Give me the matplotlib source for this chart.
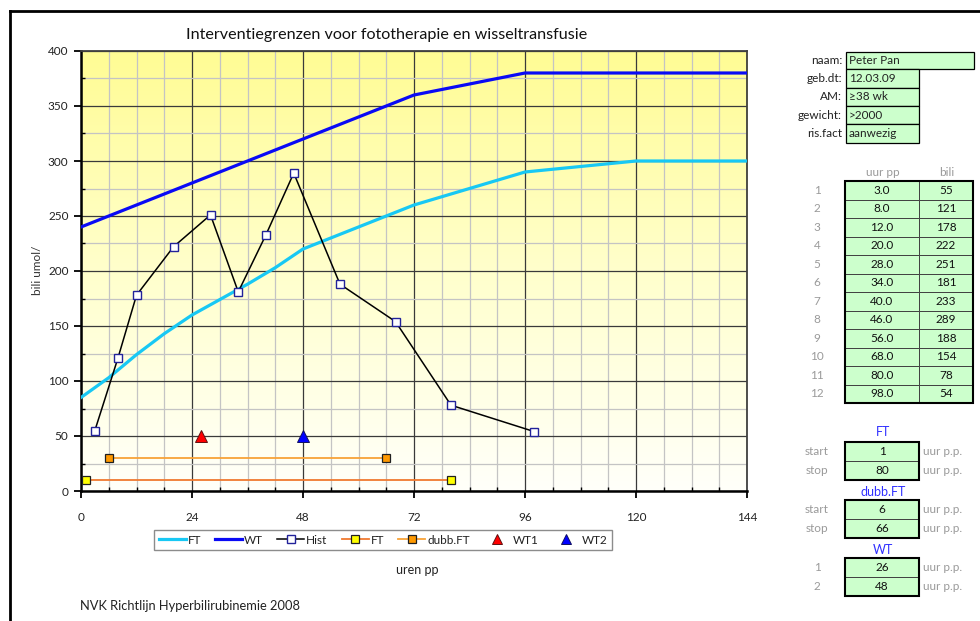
import numpy as np
import matplotlib
matplotlib.use("Agg")
import matplotlib.pyplot as plt
from matplotlib.patches import Rectangle
from matplotlib.colors import LinearSegmentedColormap

plt.rcParams['font.family'] = ['Lato', 'DejaVu Sans']

# grenslijnen (uur pp -> bili umol/l)
ft_hours = [0, 6, 12, 18, 24, 30, 36, 42, 48, 72, 96, 120, 144]
ft_limit = [85, 103, 124, 143, 160, 174, 188, 203, 220, 260, 290, 300, 300]
wt_hours = [0, 24, 48, 72, 96, 144]
wt_limit = [240, 280, 320, 360, 380, 380]

# gemeten waarden
hist_hours = [3, 8, 12, 20, 28, 34, 40, 46, 56, 68, 80, 98]
hist_bili = [55, 121, 178, 222, 251, 181, 233, 289, 188, 154, 78, 54]

# behandelingen
ft_period = [1, 80]
ft_level = 10
dubb_period = [6, 66]
dubb_level = 30
wt_moments = [26, 48]
wt_level = 50

patient_labels = ['naam:', 'geb.dt:', 'AM:', 'gewicht:', 'ris.fact']
patient_values = ['Peter Pan', '12.03.09', '\u226538 wk', '>2000', 'aanwezig']

W, H = 980, 621
fig = plt.figure(figsize=(W / 100, H / 100), dpi=100)
fig.patch.set_facecolor('white')

ax = fig.add_axes([81 / W, 1 - 491 / H, 666 / W, 440 / H])

# achtergrond verloop
bg = LinearSegmentedColormap.from_list('bg', ['#fffffa', '#ffffcc', '#fffc94'])
ax.imshow(np.linspace(0, 1, 256).reshape(-1, 1), extent=[0, 144, 0, 400],
          origin='lower', aspect='auto', cmap=bg, zorder=0)

ax.set_xlim(0, 144)
ax.set_ylim(0, 400)
ax.set_xticks(np.arange(0, 145, 24))
ax.set_xticks(np.arange(0, 145, 6), minor=True)
ax.set_yticks(np.arange(0, 401, 50))
ax.set_yticks(np.arange(0, 401, 25), minor=True)
ax.grid(which='minor', color='#c4c4c4', lw=0.9, zorder=0.5)
ax.grid(which='major', color='#3a3a3a', lw=0.9, zorder=0.6)
ax.set_axisbelow(True)

for s in ['left', 'bottom']:
    ax.spines[s].set_color('black')
    ax.spines[s].set_linewidth(1.8)
for s in ['top', 'right']:
    ax.spines[s].set_color('#404040')
    ax.spines[s].set_linewidth(1.3)

ax.tick_params(which='major', direction='out', length=5, width=1.3,
               labelsize=8.5, labelcolor='#222222')
ax.tick_params(axis='x', which='major', pad=10)
ax.tick_params(axis='y', which='major', pad=4)
ax.tick_params(which='minor', direction='in', length=3, width=1.0)

ax.plot(ft_hours, ft_limit, color='#18c8f4', lw=2.3, label='FT', zorder=3)
ax.plot(wt_hours, wt_limit, color='#0a0af5', lw=2.3, label='WT', zorder=3)
ax.plot(hist_hours, hist_bili, color='black', lw=1.1, marker='s', ms=5.6,
        mfc='white', mec='#22229a', mew=1.0, label='Hist', zorder=4)
ax.plot(ft_period, [ft_level] * 2, color='#f07a30', lw=1.3, marker='s', ms=6.3,
        mfc='#ffff00', mec='#202020', mew=0.9, label='FT', zorder=4)
ax.plot(dubb_period, [dubb_level] * 2, color='#f8a238', lw=1.3, marker='s', ms=6.3,
        mfc='#ff9900', mec='#202020', mew=0.9, label='dubb.FT', zorder=4)
ax.plot([wt_moments[0]], [wt_level], ls='none', marker='^', ms=8,
        mfc='#ff0000', mec='#601010', mew=0.7, label='WT1', zorder=5, clip_on=False)
ax.plot([wt_moments[1]], [wt_level], ls='none', marker='^', ms=8,
        mfc='#0000ff', mec='#101060', mew=0.7, label='WT2', zorder=5, clip_on=False)

leg = fig.legend(loc='center', bbox_to_anchor=(383 / W, 1 - 540 / H), ncol=7,
                 fontsize=8.5, frameon=True, fancybox=False, handlelength=2.3,
                 handletextpad=0.15, columnspacing=1.2, borderpad=0.4,
                 markerscale=0.95)
leg.get_frame().set_edgecolor('#707070')
leg.get_frame().set_linewidth(1.0)
for t in leg.get_texts():
    t.set_color('#222222')

fig.text(387 / W, 1 - 35 / H, 'Interventiegrenzen voor fototherapie en wisseltransfusie',
         ha='center', va='center', fontsize=11.6, color='#111111')
fig.text(37 / W, 1 - 270 / H, 'bili umol/', rotation=90, ha='center', va='center',
         fontsize=8.5, color='#333333')
fig.text(417 / W, 1 - 570 / H, 'uren pp', ha='center', va='center',
         fontsize=9, color='#222222')
fig.text(80 / W, 1 - 606 / H, 'NVK Richtlijn Hyperbilirubinemie 2008', ha='left',
         va='center', fontsize=9.3, color='#222222')

# paneel rechts, in pixelcoordinaten
pan = fig.add_axes([0, 0, 1, 1])
pan.set_xlim(0, W)
pan.set_ylim(H, 0)
pan.axis('off')
pan.patch.set_alpha(0)

# rand van het werkblad
pan.plot([10, 10], [11, H], color='black', lw=2)
pan.plot([10, W], [11, 11], color='black', lw=2)

green = '#ccffcc'
grey = '#9a9a9a'
blue = '#3030ff'
fs = 8.5


def box(x0, y0, x1, y1, lw=0.9):
    pan.add_patch(Rectangle((x0, y0), x1 - x0, y1 - y0, fc=green, ec='black', lw=lw))


# patientgegevens
tops = [51.7, 69.3, 87.7, 106, 124.3, 143.3]
for i, (lab, val) in enumerate(zip(patient_labels, patient_values)):
    y0, y1 = tops[i], tops[i + 1]
    box(846, y0, 974 if i == 0 else 919, y1)
    yc = (y0 + y1) / 2
    pan.text(842, yc, lab, ha='right', va='center', fontsize=fs, color='#222222')
    pan.text(849, yc, val, ha='left', va='center', fontsize=fs, color='#222222')

# meetwaarden tabel
t_top, row_h = 181, 18.5
pan.text(883, 172, 'uur pp', ha='center', va='center', fontsize=fs, color=grey)
pan.text(947, 172, 'bili', ha='center', va='center', fontsize=fs, color=grey)
for i, (h, b) in enumerate(zip(hist_hours, hist_bili)):
    y0 = t_top + i * row_h
    pan.add_patch(Rectangle((845, y0), 74, row_h, fc=green, ec='#404040', lw=0.7))
    pan.add_patch(Rectangle((919, y0), 54, row_h, fc=green, ec='#404040', lw=0.7))
    yc = y0 + row_h / 2
    pan.text(817, yc, str(i + 1), ha='center', va='center', fontsize=fs, color=grey)
    pan.text(882, yc, f'{h:.1f}', ha='center', va='center', fontsize=fs, color='#111111')
    pan.text(946, yc, str(b), ha='center', va='center', fontsize=fs, color='#111111')
pan.add_patch(Rectangle((845, t_top), 128, row_h * len(hist_hours), fc='none',
                        ec='black', lw=1.5))

# behandelingen
blocks = [('FT', 432, 441.7, ['start', 'stop'], ft_period),
          ('dubb.FT', 491.7, 499.7, ['start', 'stop'], dubb_period),
          ('WT', 550, 557.7, ['1', '2'], wt_moments)]
for title, ty, y0, labs, vals in blocks:
    pan.text(883, ty, title, ha='center', va='center', fontsize=9, color=blue)
    rh = 19
    for j in range(2):
        yj = y0 + j * rh
        pan.add_patch(Rectangle((845, yj), 74, rh, fc=green, ec='#404040', lw=0.7))
        yc = yj + rh / 2
        pan.text(817, yc, labs[j], ha='center', va='center', fontsize=fs, color=grey)
        pan.text(882, yc, str(vals[j]), ha='center', va='center', fontsize=fs,
                 color='#111111')
        pan.text(923, yc, 'uur p.p.', ha='left', va='center', fontsize=fs, color=grey)
    pan.add_patch(Rectangle((845, y0), 74, 2 * rh, fc='none', ec='black', lw=1.5))

fig.savefig('out.png', dpi=100)
